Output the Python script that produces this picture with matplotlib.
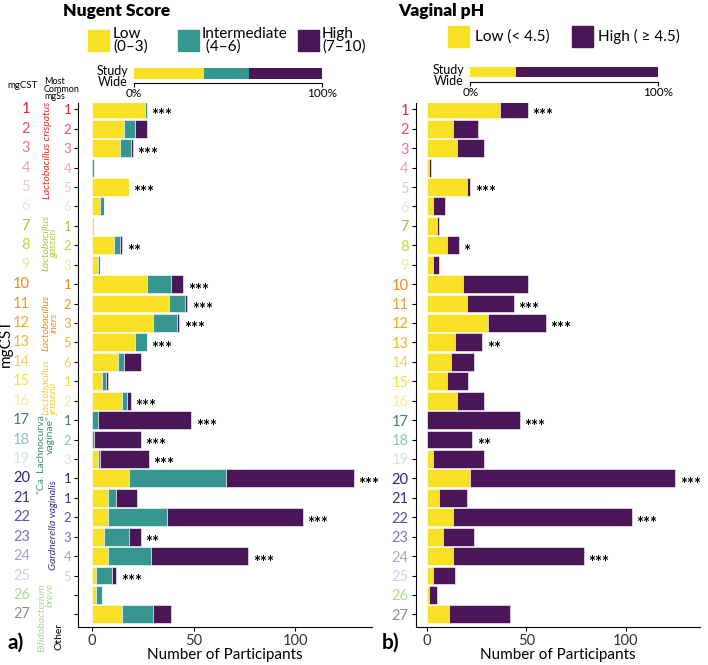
import matplotlib
matplotlib.use("Agg")
import matplotlib.pyplot as plt
import matplotlib.transforms as mtransforms
from matplotlib.patches import Rectangle

plt.rcParams['font.family'] = ['Lato', 'DejaVu Sans']

# rows of the chart (mgCST 1..27) and their most common mgSs
mgcst = list(range(1, 28))
mgss = ['1', '2', '3', '4', '5', '6', '1', '2', '3', '1', '2', '3', '5', '6',
        '1', '2', '1', '2', '3', '1', '1', '2', '3', '4', '5', '', '']
mgcst_colors = ['#E3262B', '#EB4A5A', '#F0708A', '#F4A0B5', '#F7BFCE', '#FAD9E2',
                '#9BCB3C', '#C5D92D', '#E6EBA0', '#F08A12', '#F39A1E', '#F5A623',
                '#F2B531', '#F5CF6A', '#F5E12A', '#F7EB9C', '#3E7F6E', '#89C9B4',
                '#CDE7DF', '#2E2278', '#3E3290', '#5E52A6', '#7F76BA', '#A8A2CE',
                '#D2CFE6', '#A8DC90', '#8E8E8E']

# Nugent score counts (low / intermediate / high)
nugent_low = [26, 16, 14, 0, 18, 4, 1, 11, 3, 27, 38, 30, 21, 13, 5, 15, 0, 0, 3, 18, 8, 8, 6, 8, 2, 2, 15]
nugent_mid = [1, 5, 5, 1, 0, 2, 0, 3, 1, 12, 8, 12, 6, 3, 2, 2, 3, 1, 1, 48, 4, 29, 12, 21, 8, 3, 15]
nugent_high = [0, 6, 1, 0, 0, 0, 0, 1, 0, 6, 1, 1, 0, 8, 1, 2, 46, 23, 24, 63, 10, 67, 6, 48, 2, 0, 9]
nugent_sig = ['***', '', '***', '', '***', '', '', '**', '', '***', '***', '***', '***', '',
              '', '***', '***', '***', '***', '***', '', '***', '**', '***', '***', '', '']
nugent_study = [37.2, 23.9, 38.9]

# vaginal pH counts (low / high)
ph_low = [37, 13, 15, 1, 20, 3, 5, 10, 3, 18, 20, 31, 14, 12, 10, 15, 0, 0, 3, 22, 6, 13, 8, 13, 3, 1, 11]
ph_high = [14, 13, 14, 1, 2, 6, 1, 6, 3, 33, 24, 29, 14, 12, 11, 14, 47, 23, 26, 103, 14, 90, 16, 66, 11, 4, 31]
ph_sig = ['***', '', '', '', '***', '', '', '*', '', '', '***', '***', '**', '',
          '', '', '***', '**', '', '***', '', '***', '', '***', '', '', '']
ph_study = [24.1, 75.9]

YEL, TEAL, PURP = '#F8E125', '#35978F', '#4A1658'

W, H = 708, 665
fig = plt.figure(figsize=(W / 100, H / 100), dpi=100)


def fx(px):
    return px / W


def fy(py):
    return 1 - py / H


def main_axes(x0, x1, zero, scale):
    ax = fig.add_axes([fx(x0), fy(627), fx(x1 - x0), (627 - 102.7) / H])
    ax.set_xlim(-(zero - x0) / scale, (x1 - zero) / scale)
    ax.set_ylim(27.65, 0.66)
    ax.spines[['top', 'right']].set_visible(False)
    ax.set_xticks([0, 50, 100])
    ax.tick_params(axis='x', labelsize=10.5, labelcolor='#333333', length=3, pad=2)
    ax.set_yticks(mgcst)
    ax.tick_params(axis='y', length=3, pad=2)
    ax.set_xlabel('Number of Participants', fontsize=11, labelpad=0)
    return ax


def stars(ax, totals, sig):
    for y, t, s in zip(mgcst, totals, sig):
        if s:
            ax.text(t + 2.2, y + 0.33, s, fontsize=12, fontweight='bold', va='center', ha='left')


# ---- panel a: Nugent score
ax1 = main_axes(78.3, 372, 92, 2.03)
left = [0] * 27
for vals, c in [(nugent_low, YEL), (nugent_mid, TEAL), (nugent_high, PURP)]:
    ax1.barh(mgcst, vals, left=left, height=0.92, color=c, edgecolor='white', linewidth=0.4)
    left = [a + b for a, b in zip(left, vals)]
stars(ax1, left, nugent_sig)
ax1.set_yticklabels(mgss, fontsize=9.5)
for lab, c in zip(ax1.get_yticklabels(), mgcst_colors):
    lab.set_color(c)

# mgCST numbers column left of panel a
trans1 = mtransforms.blended_transform_factory(fig.transFigure, ax1.transData)
for y, c in zip(mgcst, mgcst_colors):
    ax1.text(fx(30), y, str(y), transform=trans1, fontsize=10.5, color=c,
             ha='right', va='center', clip_on=False)

# species labels
species = [
    ('Lactobacillus crispatus', 48, 3.1, 'center', 'center', '#E3262B', 'italic'),
    ('Lactobacillus\ngasseri', 50, 7.9, 'center', 'center', '#A6CE39', 'italic'),
    ('Lactobacillus\niners', 50, 12.0, 'center', 'center', '#F08A12', 'italic'),
    ('Lactobacillus\njensenii', 50, 16.75, 'bottom', 'left', '#F2CF30', 'italic'),
    ('"Ca. Lachnocurva', 42, 16.75, 'top', 'right', '#3E8C78', 'normal'),
    ('vaginae"', 50.5, 16.75, 'top', 'right', '#3E8C78', 'normal'),
    ('Gardnerella vaginalis', 54, 22.4, 'center', 'center', '#3E2E8E', 'italic'),
    ('Bifidobacterium\nbreve', 46, 25.4, 'top', 'right', '#A8DC90', 'italic'),
    ('Other', 59, 28.15, 'center', 'center', 'black', 'normal'),
]
for txt, x, y, va, ma, c, st in species:
    ax1.text(fx(x), y, txt, transform=trans1, rotation=90, fontsize=7.5, color=c,
             style=st, ha='center', va=va, multialignment=ma, linespacing=0.9,
             clip_on=False)

# ---- panel b: vaginal pH
ax2 = main_axes(415.7, 700, 426.7, 1.99)
left = [0] * 27
for vals, c in [(ph_low, YEL), (ph_high, PURP)]:
    ax2.barh(mgcst, vals, left=left, height=0.92, color=c, edgecolor='white', linewidth=0.4)
    left = [a + b for a, b in zip(left, vals)]
stars(ax2, left, ph_sig)
ax2.set_yticklabels([str(m) for m in mgcst], fontsize=10.5)
for lab, c in zip(ax2.get_yticklabels(), mgcst_colors):
    lab.set_color(c)


# ---- study wide bars
def study_axes(x0, x1, ybot, vals, colors, ybar, hbar, label_x):
    ax = fig.add_axes([fx(x0), fy(ybot), fx(x1 - x0), 15 / H])
    start = 0
    for v, c in zip(vals, colors):
        ax.barh(ybar, v, left=start, height=hbar, color=c)
        start += v
    ax.set_xlim(0, 100)
    ax.set_ylim(0, 1)
    ax.spines[['top', 'right', 'left']].set_visible(False)
    ax.set_yticks([])
    ax.set_xticks([0, 100], ['0%', '100%'])
    ax.tick_params(axis='x', labelsize=8.5, length=3, pad=1)
    fig.text(fx(label_x), fy(ybot - 6), 'Study\nWide', fontsize=9, ha='right',
             va='center', linespacing=0.85)


study_axes(134, 322.3, 82.7, nugent_study, [YEL, TEAL, PURP], 0.6, 0.75, 128)
study_axes(470.3, 658.3, 81.7, ph_study, [YEL, PURP], 0.66, 0.67, 464)

# ---- titles and legends
fig.text(fx(63), fy(11), 'Nugent Score', fontsize=12.5, fontweight='heavy', va='center')
fig.text(fx(398), fy(11), 'Vaginal pH', fontsize=12.5, fontweight='heavy', va='center')

legend_items = [
    (88, 30, YEL, 'Low\n(0–3)', 113),
    (178, 30, TEAL, 'Intermediate\n (4–6)', 202),
    (298, 30, PURP, 'High\n(7–10)', 322),
    (448, 26, YEL, 'Low (< 4.5)', 475),
    (572, 26, PURP, 'High ( ≥ 4.5)', 598),
]
for x, y, c, txt, tx in legend_items:
    fig.add_artist(Rectangle((fx(x), fy(y + 21)), fx(21), 21 / H, color=c,
                             transform=fig.transFigure))
    fig.text(fx(tx), fy(y + 10.5), txt, fontsize=11, va='center', ha='left', linespacing=0.85)

# ---- row headers and panel letters
fig.text(fx(22), fy(85), 'mgCST', fontsize=7, ha='center', va='center')
fig.text(fx(44), fy(89), 'Most\nCommon\nmgSs', fontsize=6.5, ha='left', va='center', linespacing=0.8)
fig.text(fx(5.5), fy(343), 'mgCST', fontsize=11, rotation=90, ha='center', va='center')
fig.text(fx(16), fy(643), 'a)', fontsize=15, fontweight='bold', ha='center', va='center')
fig.text(fx(391), fy(643), 'b)', fontsize=15, fontweight='bold', ha='center', va='center')

fig.savefig('out.png', dpi=100)
